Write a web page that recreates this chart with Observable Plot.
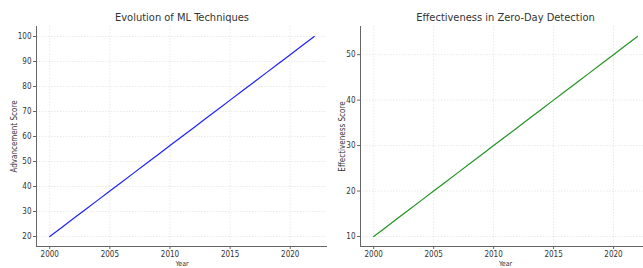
<!DOCTYPE html>
<html>
<head>
<meta charset="utf-8">
<script src="https://cdn.jsdelivr.net/npm/d3@7"></script>
<script src="https://cdn.jsdelivr.net/npm/@observablehq/plot@0.6"></script>
<style>
  html, body { margin: 0; padding: 0; background: #fff; overflow: hidden; }
  #wrap { display: flex; width: 643px; height: 268px; }
  svg { font-family: "DejaVu Sans Condensed", "DejaVu Sans", sans-serif; }
</style>
</head>
<body>
<div id="wrap"></div>
<script>
const years = [2000,2001,2002,2003,2004,2005,2006,2007,2008,2009,2010,2011,2012,2013,2014,2015,2016,2017,2018,2019,2020,2021,2022];
const advancement = [20,23.64,27.27,30.91,34.55,38.18,41.82,45.45,49.09,52.73,56.36,60,63.64,67.27,70.91,74.55,78.18,81.82,85.45,89.09,92.73,96.36,100];
const effectiveness = [10,12,14,16,18,20,22,24,26,28,30,32,34,36,38,40,42,44,46,48,50,52,54];
const xTicks = [2000,2005,2010,2015,2020];
const leftYTicks = [20,30,40,50,60,70,80,90,100];
const rightYTicks = [10,20,30,40,50];
const titles = ["Evolution of ML Techniques", "Effectiveness in Zero-Day Detection"];
const yLabels = ["Advancement Score", "Effectiveness Score"];
const xLabel = "Year";

function panel({values, color, title, ylabel, yTicks, xDomain, yDomain, width, marginLeft, marginRight, ylabDx, titleDx}) {
  const data = years.map((y, i) => ({year: y, v: values[i]}));
  return Plot.plot({
    width, height: 268,
    marginLeft, marginRight, marginTop: 26, marginBottom: 22,
    style: {fontSize: "8px", color: "#333", background: "#fff"},
    x: {domain: xDomain},
    y: {domain: yDomain},
    marks: [
      Plot.gridX(xTicks, {stroke: "#dcdcdc", strokeOpacity: 1, strokeDasharray: "1.5,1.5", strokeWidth: 0.6}),
      Plot.gridY(yTicks, {stroke: "#dcdcdc", strokeOpacity: 1, strokeDasharray: "1.5,1.5", strokeWidth: 0.6}),
      Plot.ruleX([xDomain[0]], {stroke: "#555", strokeWidth: 0.9}),
      Plot.ruleY([yDomain[0]], {stroke: "#555", strokeWidth: 0.9}),
      Plot.axisX(xTicks, {tickSize: 3, tickPadding: 2, stroke: "#666", label: null, fontSize: 8, tickFormat: "d"}),
      Plot.axisY(yTicks, {tickSize: 3, tickPadding: 2, stroke: "#666", label: null, fontSize: 8}),
      Plot.line(data, {x: "year", y: "v", stroke: color, strokeWidth: 1.2}),
      Plot.text([title], {frameAnchor: "top", dy: -9, dx: titleDx, fontSize: 11, fill: "#333", lineAnchor: "middle"}),
      Plot.text([ylabel], {frameAnchor: "left", dx: ylabDx, rotate: -90, fontSize: 8, fill: "#333", textAnchor: "middle"}),
      Plot.text([xLabel], {frameAnchor: "bottom", dy: 17, dx: titleDx, fontSize: 7, fill: "#333", lineAnchor: "middle"})
    ]
  });
}

const wrap = document.getElementById("wrap");
wrap.append(panel({
  values: advancement, color: "#2020ff", title: titles[0], ylabel: yLabels[0],
  yTicks: leftYTicks, xDomain: [1998.9, 2023.1], yDomain: [16, 104],
  width: 330, marginLeft: 36, marginRight: 3, ylabDx: -22, titleDx: 0
}));
wrap.append(panel({
  values: effectiveness, color: "#229422", title: titles[1], ylabel: yLabels[1],
  yTicks: rightYTicks, xDomain: [1998.9, 2022.5], yDomain: [7.8, 56.2],
  width: 313, marginLeft: 30, marginRight: 0, ylabDx: -18, titleDx: 3.5
}));
</script>
</body>
</html>
